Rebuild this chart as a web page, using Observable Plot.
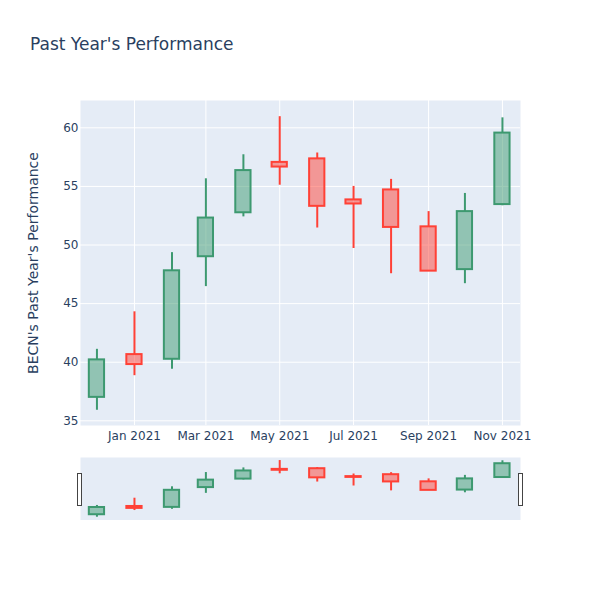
<!DOCTYPE html>
<html>
<head>
<meta charset="utf-8">
<script src="https://cdn.jsdelivr.net/npm/d3@7"></script>
<script src="https://cdn.jsdelivr.net/npm/@observablehq/plot@0.6"></script>
<style>
  body { margin: 0; background: #fff; }
  #wrap { position: relative; width: 600px; height: 600px; font-family: "DejaVu Sans", sans-serif; }
  #title { position: absolute; left: 30px; top: 35.5px; font-size: 17px; line-height: 17px; color: #2a3f5f; white-space: nowrap; }
  #main { position: absolute; left: 0; top: 0; }
  #slider { position: absolute; left: 0; top: 457px; }
  .handle { position: absolute; top: 473px; width: 3px; height: 31px; background: #fff; border: 1px solid #444; }
</style>
</head>
<body>
<div id="wrap">
  <div id="title">Past Year's Performance</div>
  <div id="main"></div>
  <div id="slider"></div>
  <div class="handle" style="left:77px"></div>
  <div class="handle" style="left:518px"></div>
</div>
<script>
const dates = ["2020-12-01","2021-01-01","2021-02-01","2021-03-01","2021-04-01","2021-05-01","2021-06-01","2021-07-01","2021-08-01","2021-09-01","2021-10-01","2021-11-01"];
const open  = [37.0, 40.65, 40.25, 49.0, 52.75, 57.05, 57.35, 53.85, 54.7, 51.55, 47.9, 53.45];
const high  = [41.1, 44.3, 49.35, 55.65, 57.7, 60.95, 57.85, 55.0, 55.6, 52.85, 54.4, 60.85];
const low   = [35.9, 38.85, 39.4, 46.45, 52.4, 55.1, 51.45, 49.7, 47.55, 47.75, 46.7, 53.35];
const close = [40.2, 39.8, 47.8, 52.3, 56.35, 56.65, 53.3, 53.5, 51.5, 47.77, 52.85, 59.55];
const yTicks = [35, 40, 45, 50, 55, 60];
const xTickDates = ["2021-01-01","2021-03-01","2021-05-01","2021-07-01","2021-09-01","2021-11-01"];
const xTickLabels = ["Jan 2021","Mar 2021","May 2021","Jul 2021","Sep 2021","Nov 2021"];

const data = dates.map((d, i) => ({
  date: new Date(d + "T00:00Z"), open: open[i], high: high[i], low: low[i], close: close[i]
}));
const xt = xTickDates.map(d => new Date(d + "T00:00Z"));
const xDomain = [new Date("2020-11-17T10:00Z"), new Date("2021-11-15T22:00Z")];
const INC = "#3D9970", DEC = "#FF4136";
const hw = 6.3 * 24 * 3600 * 1000;
const col = d => d.close >= d.open ? INC : DEC;

function candles() {
  return [
    Plot.ruleX(data, {x: "date", y1: "high", y2: d => Math.max(d.open, d.close), stroke: col, strokeWidth: 2}),
    Plot.ruleX(data, {x: "date", y1: "low", y2: d => Math.min(d.open, d.close), stroke: col, strokeWidth: 2}),
    Plot.rect(data, {
      x1: d => new Date(+d.date - hw), x2: d => new Date(+d.date + hw),
      y1: "open", y2: "close",
      fill: col, fillOpacity: 0.5, stroke: col, strokeWidth: 2
    })
  ];
}

const main = Plot.plot({
  width: 600, height: 450,
  marginTop: 100, marginBottom: 25, marginLeft: 80, marginRight: 80,
  style: {fontFamily: "DejaVu Sans, sans-serif", fontSize: "12px", color: "#2a3f5f", background: "transparent"},
  x: {type: "utc", domain: xDomain},
  y: {domain: [34.6, 62.33]},
  marks: [
    Plot.frame({fill: "#E5ECF6", stroke: null}),
    Plot.gridX(xt, {stroke: "#fff", strokeOpacity: 1, strokeWidth: 1}),
    Plot.gridY(yTicks, {stroke: "#fff", strokeOpacity: 1, strokeWidth: 1}),
    Plot.axisX(xt, {tickSize: 0, tickPadding: 6, tickFormat: (d, i) => xTickLabels[i], fill: "#2a3f5f", label: null, fontSize: 12}),
    Plot.axisY(yTicks, {tickSize: 0, tickPadding: 2, fill: "#2a3f5f", fontSize: 12,
      label: "BECN's Past Year's Performance", labelAnchor: "center", labelArrow: "none", labelOffset: 52}),
    ...candles()
  ]
});
main.querySelectorAll("[aria-label='y-axis label'] text, g[aria-label='y-axis label']").forEach(e => { e.setAttribute("font-size", "14"); e.style.fontSize = "14px"; });
document.getElementById("main").appendChild(main);

const slider = Plot.plot({
  width: 600, height: 63,
  marginTop: 0, marginBottom: 0, marginLeft: 80, marginRight: 80,
  style: {background: "transparent"},
  x: {type: "utc", domain: xDomain, axis: null},
  y: {domain: [34.45, 62.3], axis: null},
  marks: [
    Plot.frame({fill: "#E5ECF6", stroke: null}),
    ...candles()
  ]
});
document.getElementById("slider").appendChild(slider);
</script>
</body>
</html>
